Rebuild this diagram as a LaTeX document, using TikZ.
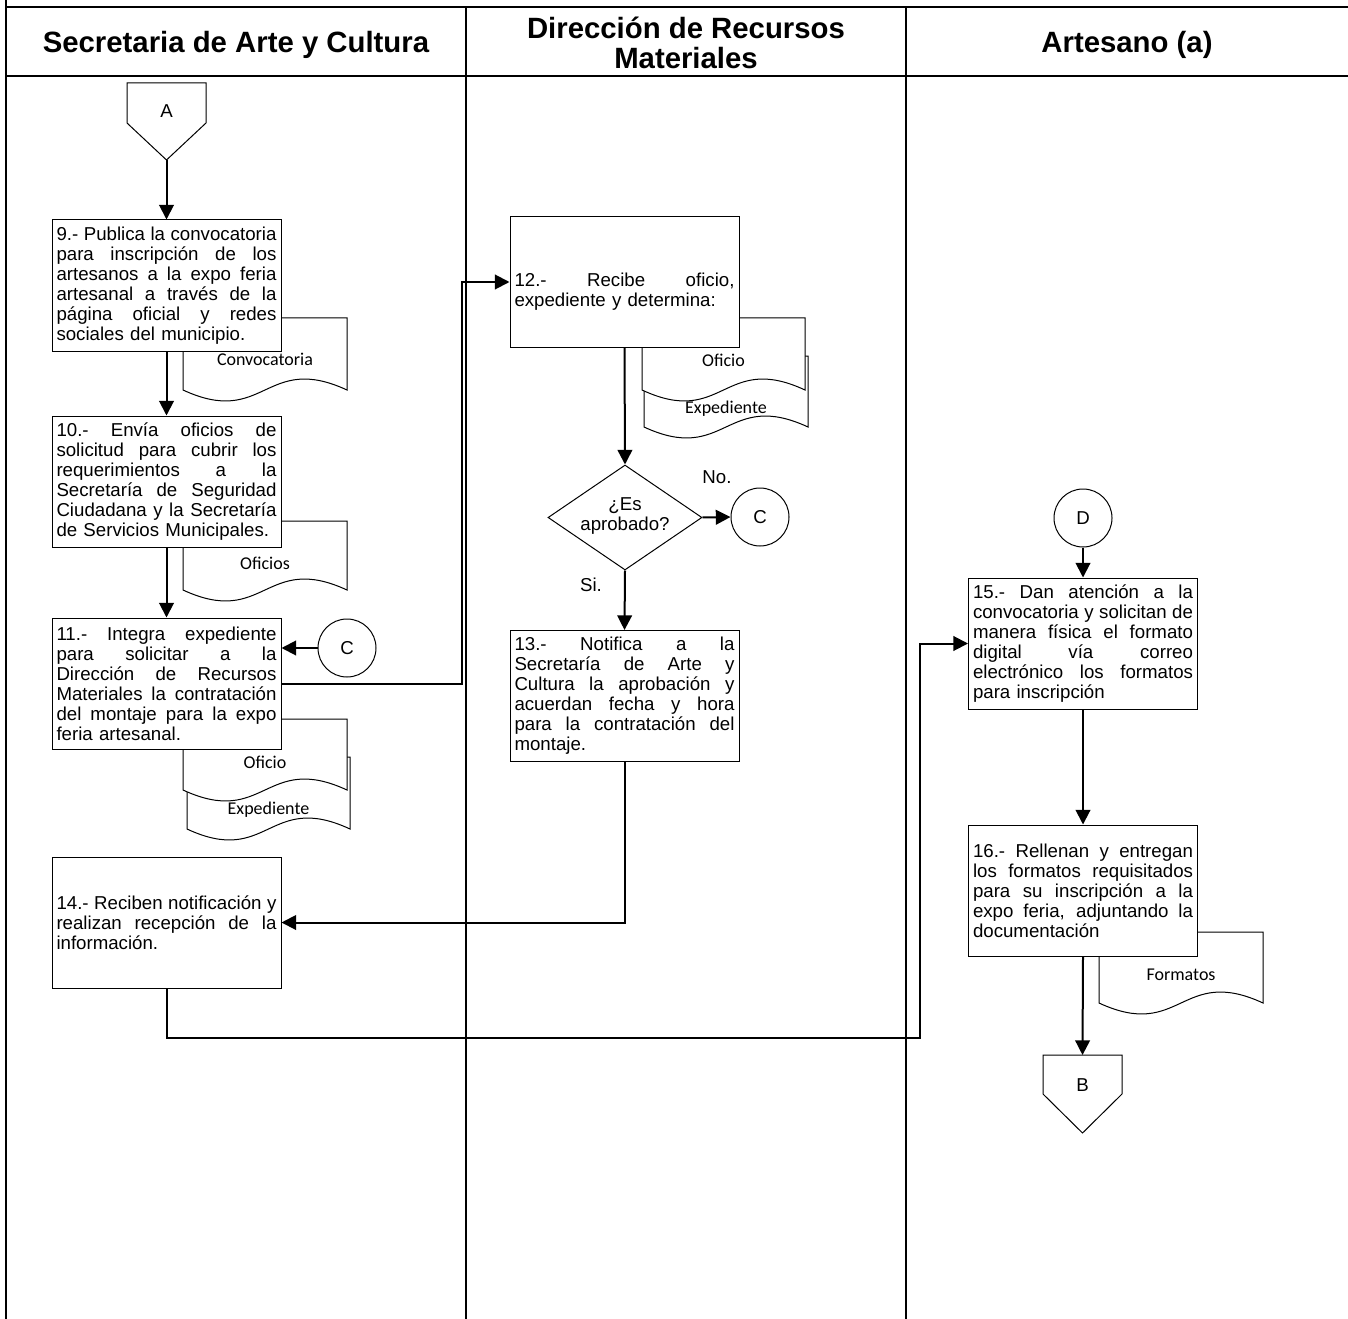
\documentclass[tikz,border=0pt]{standalone}
\usepackage{fontspec}
\setmainfont{Liberation Sans}
\newfontfamily\docfont{Carlito}
\usetikzlibrary{arrows.meta,shapes.geometric,calc}

% one justified line of a step text, a ragged final line, and the stack of lines
\newcommand\jline[1]{\hbox to\linewidth{\spaceskip=0.2em plus 1fil\relax #1}}
\newcommand\lline[1]{\hbox to\linewidth{#1\hfil}}
\newcommand\steplines[1]{\vbox{#1}}

% document symbol with a wavy lower edge: x1, top, x2, end of sides, label y, name, label
\newcommand\docshape[7]{%
  \draw[doc] (#1,#2) -- (#3,#2) -- (#3,#4)
    .. controls ({(#1+#3)/2},{#4-38}) and ({(#1+#3)/2},{#4+38}) .. (#1,#4) -- cycle;
  \node[doclabel] (#6) at ({(#1+#3)/2},#5) {#7};}

\begin{document}
\begin{tikzpicture}[x=0.75pt,y=-0.75pt,
  frame/.style={line width=1.5pt},
  lane/.style={line width=1pt},
  header/.style={font=\fontsize{22}{22.5}\selectfont\bfseries, align=center},
  body/.style={font=\fontsize{14}{15}\selectfont},
  stepbox/.style={body, draw, line width=0.75pt, fill=white, text width=165pt,
    inner xsep=3.375pt, inner ysep=0pt, minimum height=98.25pt},
  doc/.style={draw, line width=0.75pt, fill=white},
  doclabel/.style={font=\docfont\fontsize{13.5}{15}\selectfont, inner sep=0pt},
  conn/.style={body, circle, draw, line width=0.75pt, fill=white, minimum size=43.5pt, inner sep=0pt},
  offpage/.style={draw, line width=0.75pt, fill=white},
  decision/.style={diamond, draw, line width=0.75pt, fill=white,
    minimum width=115.5pt, minimum height=78.75pt, inner sep=0pt},
  flow/.style={line width=1.5pt, -{Triangle[length=11pt,width=11pt]}},
  lbl/.style={body, inner sep=0pt}
]
\useasboundingbox (0,0) rectangle (1348,1319);

% lanes and header
\draw[frame] (6,0) -- (6,1319);
\draw[frame] (6,7) -- (1348,7);
\draw[frame] (6,76) -- (1348,76);
\draw[lane] (466,7) -- (466,1319);
\draw[lane] (906,7) -- (906,1319);
\node[header] (hdr1) at (236,45) {Secretaria de Arte y Cultura};
\node[header] (hdr2) at (686,43) {Dirección de Recursos\\Materiales};
\node[header] (hdr3) at (1127,45) {Artesano (a)};

% documents behind the steps
\docshape{183}{318}{347}{390}{359}{dConv}{Convocatoria}
\docshape{183}{521}{347}{590}{563}{dOfs}{Oficios}
\docshape{187}{757}{350}{829}{810}{dExpA}{Expediente}
\docshape{183}{719}{347}{790}{762}{dOfA}{Oficio}
\docshape{644}{356}{808}{427}{409}{dExpB}{Expediente}
\docshape{642}{318}{805}{390}{360}{dOfB}{Oficio}
\docshape{1099}{932}{1263}{1003}{975}{dFmt}{Formatos}

% off-page connectors
\draw[offpage] (127,83) -- (206,83) -- (206,123) -- (166.5,160) -- (127,123) -- cycle;
\node[body] (offA) at (166.5,111) {A};
\coordinate (offAtip) at (166.5,160);
\draw[offpage] (1043,1055) -- (1122,1055) -- (1122,1094) -- (1082.5,1133) -- (1043,1094) -- cycle;
\node[body] (offB) at (1082.5,1085) {B};
\coordinate (offBtop) at (1082.5,1055);

% steps
\node[stepbox] (box9) at (166.5,285.5) {\steplines{%
  \jline{9.- Publica la convocatoria}%
  \jline{para inscripción de los}%
  \jline{artesanos a la expo feria}%
  \jline{artesanal a través de la}%
  \jline{página oficial y redes}%
  \lline{sociales del municipio.}}};
\node[stepbox] (box10) at (166.5,481.5) {\steplines{%
  \jline{10.- Envía oficios de}%
  \jline{solicitud para cubrir los}%
  \jline{requerimientos a la}%
  \jline{Secretaría de Seguridad}%
  \jline{Ciudadana y la Secretaría}%
  \lline{de Servicios Municipales.}}};
\node[stepbox] (box11) at (166.5,683.5) {\steplines{%
  \jline{11.- Integra expediente}%
  \jline{para solicitar a la}%
  \jline{Dirección de Recursos}%
  \jline{Materiales la contratación}%
  \jline{del montaje para la expo}%
  \lline{feria artesanal.}}};
\node[stepbox] (box14) at (166.5,922.5) {\steplines{%
  \jline{14.- Reciben notificación y}%
  \jline{realizan recepción de la}%
  \lline{información.}}};
\node[stepbox] (box12) at (624.5,282) {\steplines{%
  \vskip 15pt
  \jline{12.- Recibe oficio,}%
  \lline{expediente y determina:}}};
\node[stepbox] (box13) at (624.5,696) {\steplines{%
  \jline{13.- Notifica a la}%
  \jline{Secretaría de Arte y}%
  \jline{Cultura la aprobación y}%
  \jline{acuerdan fecha y hora}%
  \jline{para la contratación del}%
  \lline{montaje.}}};
\node[stepbox] (box15) at (1083,643.5) {\steplines{%
  \jline{15.- Dan atención a la}%
  \jline{convocatoria y solicitan de}%
  \jline{manera física el formato}%
  \jline{digital vía correo}%
  \jline{electrónico los formatos}%
  \lline{para inscripción}}};
\node[stepbox] (box16) at (1083,890.5) {\steplines{%
  \jline{16.- Rellenan y entregan}%
  \jline{los formatos requisitados}%
  \jline{para su inscripción a la}%
  \jline{expo feria, adjuntando la}%
  \lline{documentación}}};

% decision and connectors
\node[decision] (dia) at (625,517.5) {};
\node[body, align=center, inner sep=0pt] (diaq) at (625,516) {¿Es\\aprobado?};
\node[conn] (conC1) at (347,648) {C};
\node[conn] (conC2) at (760,517) {C};
\node[conn] (conD) at (1083,518) {D};
\node[lbl] (lblNo) at (717,477) {No.};
\node[lbl] (lblSi) at (591,585) {Si.};
\coordinate (route) at (920,1038);

% flow
\draw[flow] (offAtip) -- (box9.north);
\draw[flow] (box9.south) -- (box10.north);
\draw[flow] (box10.south) -- (box11.north);
\draw[flow] (conC1.west) -- (conC1.west -| box11.east);
\draw[flow] (box11.east) -- ++(180,0) |- (box12.west);
\draw[flow] (box12.south) -- (dia.north);
\draw[flow] (dia.east) -- (conC2.west);
\draw[flow] (dia.south) -- (box13.north);
\draw[flow] (box13.south) |- (box14.east);
\draw[flow] (box14.south) |- (route) |- (box15.west);
\draw[flow] (conD.south) -- (box15.north);
\draw[flow] (box15.south) -- (box16.north);
\draw[flow] (box16.south) -- (offBtop);
\end{tikzpicture}
\end{document}
